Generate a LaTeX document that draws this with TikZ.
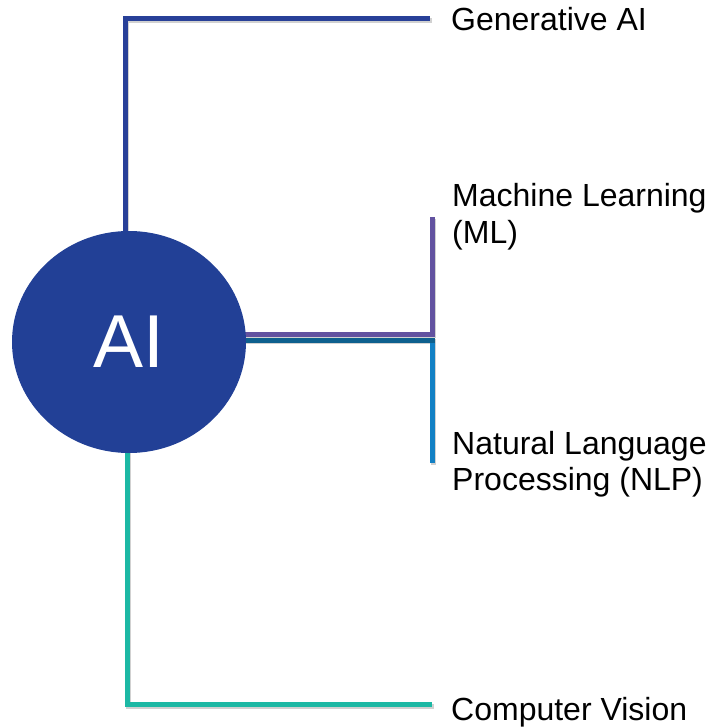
\documentclass[tikz,border=0pt]{standalone}
\usepackage{fontspec}
\setmainfont{Liberation Sans}
\usetikzlibrary{shapes.geometric,backgrounds}
\definecolor{circblue}{RGB}{34,64,150}
\definecolor{genblue}{RGB}{40,64,152}
\definecolor{mlpurple}{RGB}{98,82,160}
\definecolor{nlpblue}{RGB}{18,128,196}
\definecolor{nlpdark}{RGB}{14,96,142}
\definecolor{cvteal}{RGB}{28,184,164}
\tikzset{
  conn/.style={line width=5pt, line join=miter,
    preaction={draw=black, opacity=0.18, line width=5pt,
      transform canvas={shift={(1.6pt,-1.8pt)}}}},
  lbl/.style={font=\fontsize{32}{36}\selectfont, inner sep=0pt, anchor=base west, align=left},
}
\begin{document}
\begin{tikzpicture}[x=1pt,y=-1pt]
\useasboundingbox (0,0) rectangle (715,727);
\node[ellipse, fill=circblue, minimum width=234pt, minimum height=222pt, inner sep=0pt,
      text=white, font=\fontsize{75}{80}\selectfont] (ai) at (129,342) {AI};

\coordinate (gc) at (125,18.5);
\coordinate (ge) at (430,18.5);
\coordinate (mc) at (432,334);
\coordinate (me) at (432,217);
\coordinate (nc) at (432,340);
\coordinate (ne) at (432,463);
\coordinate (cc) at (127,704.5);
\coordinate (ce) at (432,704.5);

\node[lbl] (gen) at (451,31) {Generative AI};
\node[lbl] (ml) at (452,243) {Machine Learning\\(ML)};
\node[lbl] (nlp) at (452,490) {Natural Language\\Processing (NLP)};
\node[lbl] (cv) at (451,720) {Computer Vision};

\begin{scope}[on background layer]
\draw[conn, draw=genblue] (ai.center -| gc) |- (ge);
\draw[conn, draw=nlpblue] (ai.center |- nc) -| (ne);
\draw[line width=5pt, draw=nlpdark] (ai.center |- nc) -- ([xshift=2.5pt]nc);
\draw[conn, draw=mlpurple] (ai.center |- mc) -| (me);
\draw[conn, draw=cvteal] (ai.center -| cc) |- (ce);
\end{scope}
\end{tikzpicture}
\end{document}
